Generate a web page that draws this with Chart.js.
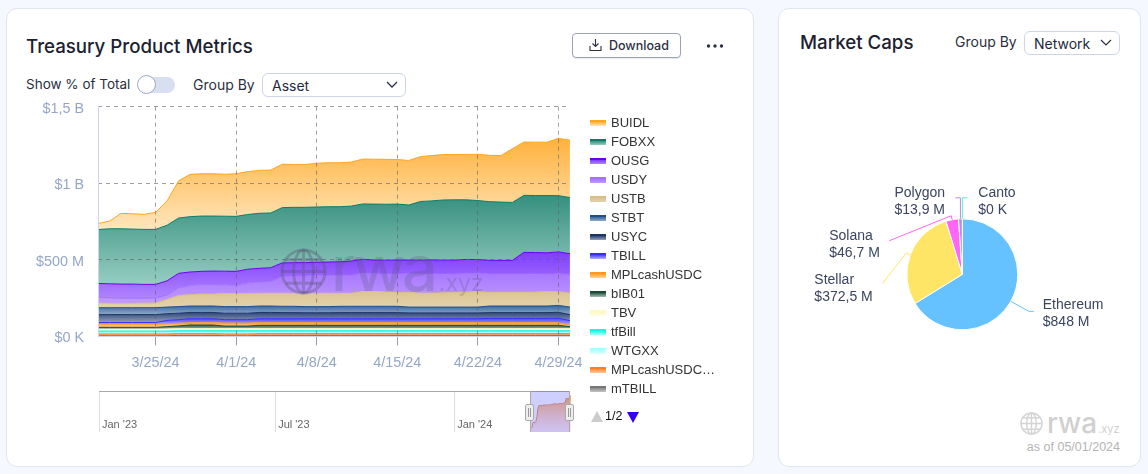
<!DOCTYPE html>
<html>
<head>
<meta charset="utf-8">
<title>Treasury Product Metrics</title>
<script src="https://cdn.jsdelivr.net/npm/chart.js@4"></script>
<style>
html, body { margin: 0; padding: 0; width: 1148px; height: 474px; overflow: hidden; background: #f5f8fe; font-family: Inter, sans-serif; color: #1b2130; }
.card { position: absolute; top: 7.5px; height: 459px; background: #fff; border: 1px solid #dfe6f3; border-radius: 11px; box-sizing: border-box; }
.abs { position: absolute; white-space: nowrap; }
.title { font-size: 18.7px; font-weight: 500; }
.label { font-size: 14px; color: #2a3040; }
.select { border: 1px solid #ccd6e8; border-radius: 6px; box-sizing: border-box; height: 24px; font-size: 14px; line-height: 23px; padding-left: 9px; color: #1f2940; }
canvas { position: absolute; }
.legend-row { position: absolute; left: 590px; height: 14px; font: 13px "Liberation Sans", sans-serif; color: #333; line-height: 14px; }
.legend-row i { position: absolute; left: 0; top: 4px; width: 16px; height: 6px; }
.legend-row span { position: absolute; left: 21px; white-space: nowrap; }
.handle { position: absolute; top: 404px; width: 9px; height: 17px; background: #eee; border: 1px solid #aaa; border-radius: 2px; box-sizing: border-box; }
.handle::after { content: ""; position: absolute; left: 2px; top: 3px; width: 1px; height: 9px; border-left: 1px solid #999; border-right: 1px solid #999; }
</style>
</head>
<body>
<svg width="0" height="0" style="position:absolute">
  <symbol id="globe" viewBox="0 0 48 48">
    <g fill="none" stroke="currentColor" stroke-width="3">
      <circle cx="24" cy="24" r="22"/>
      <ellipse cx="24" cy="24" rx="10" ry="22"/>
      <path d="M24 2V46M2 24H46M6 12H42M6 36H42"/>
    </g>
  </symbol>
</svg>

<div class="card" style="left:5.5px;width:748px"></div>
<div class="card" style="left:778px;width:363px"></div>

<div class="abs title" style="left:26px;top:35px">Treasury Product Metrics</div>
<div class="abs label" style="left:26px;top:76px;font-size:13.5px">Show % of Total</div>
<div class="abs" style="left:141px;top:77px;width:34px;height:16px;border-radius:8px;background:#d8dff1"></div>
<div class="abs" style="left:137px;top:75px;width:19px;height:19px;border-radius:50%;background:#fff;border:1px solid #9aa8c2;box-sizing:border-box"></div>
<div class="abs label" style="left:193px;top:76px">Group By</div>
<div class="abs select" style="left:262px;top:73px;width:144px">Asset</div>
<svg class="abs" style="left:386px;top:81px" width="12" height="8"><path d="M1 1L6 6L11 1" fill="none" stroke="#2a3040" stroke-width="1.3"/></svg>

<div class="abs" style="left:572px;top:33px;width:109px;height:25px;border:1px solid #9aa3b4;border-radius:4px;box-sizing:border-box;box-shadow:0 1px 1px #e4e8f0"></div>
<svg class="abs" style="left:589px;top:39px" width="13" height="13"><path d="M6.5 0V7M3.5 4.5L6.5 7.5L9.5 4.5M1 7V11.5H12V7" fill="none" stroke="#2a3040" stroke-width="1.1"/></svg>
<div class="abs" style="left:609px;top:38px;font-size:12.5px;font-weight:500;color:#2a3040">Download</div>
<svg class="abs" style="left:706px;top:43px" width="18" height="6"><circle cx="2.5" cy="3" r="1.7" fill="#2a3040"/><circle cx="9" cy="3" r="1.7" fill="#2a3040"/><circle cx="15.5" cy="3" r="1.7" fill="#2a3040"/></svg>

<div class="abs title" style="left:800px;top:31px">Market Caps</div>
<div class="abs label" style="left:955px;top:33px">Group By</div>
<div class="abs select" style="left:1024px;top:31px;width:96px">Network</div>
<svg class="abs" style="left:1100px;top:39px" width="12" height="8"><path d="M1 1L6 6L11 1" fill="none" stroke="#2a3040" stroke-width="1.2"/></svg>

<canvas id="metrics-chart" style="left:20px;top:84px" width="572" height="300"></canvas>
<div class="abs" style="left:98px;top:106px;width:1px;height:231px;background:#ccd6e8"></div>
<div class="abs" style="left:98px;top:336px;width:472px;height:1px;background:#ccd6e8"></div>

<svg class="abs" style="left:280px;top:248px;color:rgba(85,85,115,.36);z-index:3" width="47" height="47"><use href="#globe"/></svg>
<div class="abs" style="left:331px;top:233px;font-size:63px;font-weight:500;letter-spacing:-3px;line-height:70px;color:rgba(85,85,115,.24);z-index:3">rwa<span style="font-size:23px;font-weight:400;letter-spacing:0;margin-left:4px">.xyz</span></div>

<div id="metrics-legend"></div>

<canvas id="navigator-chart" style="left:98.5px;top:391px" width="472" height="41"></canvas>
<div class="abs" style="left:98.5px;top:391px;width:471.5px;height:1px;background:#aaa"></div>
<div class="abs" style="left:529.5px;top:391px;width:40.5px;height:41px;background:rgba(70,70,255,.26);border-left:1px solid #aaa;border-right:1px solid #aaa;box-sizing:border-box"></div>
<div class="handle" style="left:525px"></div>
<div class="handle" style="left:565px"></div>

<svg class="abs" style="left:590px;top:411px" width="50" height="12"><path d="M1 11L7 0L13 11Z" fill="#ccc"/><path d="M37 1H49L43 12Z" fill="#3300f5"/></svg>
<div class="abs" style="left:605px;top:409px;font:12.5px 'Liberation Sans',sans-serif;color:#111">1/2</div>

<canvas id="caps-chart" style="left:778px;top:170px" width="362" height="180"></canvas>

<svg class="abs" style="left:1020px;top:411.5px;color:#d4d4d4" width="23" height="23"><use href="#globe"/></svg>
<div class="abs" style="left:1047px;top:405px;font-size:28px;font-weight:500;line-height:36px;color:#d0d0d0">rwa<span style="font-size:11px;font-weight:400;margin-left:1px">.xyz</span></div>
<div class="abs" style="right:28px;top:440px;font:12.5px 'Liberation Sans',sans-serif;color:#b4b4b4">as of 05/01/2024</div>

<script>
const dates = [
    "3/20/24", "3/21/24", "3/22/24", "3/23/24", "3/24/24", "3/25/24", "3/26/24", "3/27/24", "3/28/24", "3/29/24", "3/30/24", "3/31/24",
    "4/1/24", "4/2/24", "4/3/24", "4/4/24", "4/5/24", "4/6/24", "4/7/24", "4/8/24", "4/9/24", "4/10/24", "4/11/24", "4/12/24", "4/13/24",
    "4/14/24", "4/15/24", "4/16/24", "4/17/24", "4/18/24", "4/19/24", "4/20/24", "4/21/24", "4/22/24", "4/23/24", "4/24/24", "4/25/24",
    "4/26/24", "4/27/24", "4/28/24", "4/29/24", "4/30/24",
];
const xTickDates = ["3/25/24", "4/1/24", "4/8/24", "4/15/24", "4/22/24", "4/29/24"];
const yTickLabels = ["$0 K", "$500 M", "$1 B", "$1,5 B"];

// values in $M, one per day
const buidl = [39, 50, 100, 100, 98, 111, 159, 243, 276, 276, 276, 274, 278, 280, 280, 280, 283, 280, 280, 285, 287, 287, 287, 293, 293, 293, 291, 291, 293, 296, 296, 296, 296, 302, 302, 304, 350, 348, 348, 348, 374, 374];
const fobxx = [352, 359, 361, 359, 359, 359, 363, 361, 361, 361, 359, 359, 359, 357, 359, 357, 361, 361, 361, 361, 361, 359, 359, 361, 365, 365, 365, 359, 383, 385, 393, 393, 389, 385, 383, 380, 378, 372, 372, 374, 367, 367];
const ousg = [89, 91, 91, 91, 89, 89, 93, 93, 87, 85, 87, 89, 91, 89, 89, 91, 89, 87, 87, 85, 87, 89, 93, 91, 89, 91, 91, 89, 91, 93, 91, 91, 93, 93, 89, 89, 89, 141, 141, 139, 143, 135];
const usdy = [39, 37, 35, 35, 33, 33, 28, 52, 61, 63, 63, 57, 54, 70, 74, 76, 109, 113, 113, 117, 117, 117, 117, 120, 117, 117, 120, 122, 124, 124, 122, 120, 120, 117, 120, 120, 120, 120, 117, 115, 117, 122];
const ustb = [30, 28, 28, 28, 30, 30, 50, 72, 74, 78, 78, 85, 85, 85, 83, 83, 85, 85, 87, 87, 87, 85, 85, 96, 96, 93, 91, 96, 91, 91, 93, 96, 98, 100, 89, 89, 89, 89, 91, 93, 89, 91];
const stbt = [45, 45, 45, 45, 45, 45, 43, 43, 42, 42, 42, 43, 43, 43, 42, 42, 41, 41, 40, 40, 40, 41, 41, 41, 41, 41, 41, 38, 38, 38, 38, 38, 38, 38, 43, 43, 43, 43, 43, 43, 45, 49];
const usyc = [52, 52, 52, 52, 52, 52, 44, 42, 41, 41, 41, 42, 42, 42, 41, 41, 40, 40, 39, 39, 39, 40, 40, 40, 40, 40, 40, 38, 38, 38, 38, 38, 38, 38, 38, 38, 38, 38, 38, 38, 38, 39];
const tbill = [11, 11, 11, 11, 11, 11, 21, 24, 26, 26, 26, 22, 22, 22, 26, 26, 26, 26, 26, 26, 26, 26, 26, 26, 26, 26, 26, 26, 26, 26, 26, 26, 26, 26, 28, 28, 28, 28, 28, 28, 30, 30];
const mplCash = [20, 20, 20, 20, 20, 20, 20, 17, 15, 15, 15, 20, 20, 20, 17, 17, 17, 17, 17, 17, 17, 17, 17, 17, 17, 17, 17, 17, 17, 17, 17, 17, 17, 17, 17, 17, 17, 17, 17, 17, 17, 10];
const bib01 = [13, 13, 13, 13, 13, 13, 15, 18, 24, 24, 24, 17, 17, 17, 22, 22, 22, 22, 22, 22, 22, 22, 22, 22, 22, 22, 22, 22, 22, 22, 22, 22, 22, 22, 22, 22, 22, 22, 22, 22, 22, 13];
const tbv = [11, 11, 11, 11, 11, 11, 13, 13, 13, 13, 13, 13, 13, 13, 13, 13, 13, 13, 13, 13, 13, 13, 13, 13, 13, 13, 13, 13, 13, 13, 13, 13, 13, 13, 13, 13, 13, 13, 13, 13, 13, 13];
const tfBill = [13, 13, 13, 13, 13, 13, 13, 13, 13, 13, 13, 15, 15, 15, 13, 13, 13, 13, 13, 13, 13, 13, 13, 13, 13, 13, 13, 13, 13, 13, 13, 13, 13, 13, 13, 13, 13, 13, 13, 13, 13, 13];
const wtgxx = [6, 6, 6, 6, 6, 6, 6, 6, 6, 6, 6, 6, 6, 6, 6, 6, 6, 6, 6, 6, 6, 6, 6, 6, 6, 6, 6, 6, 6, 6, 6, 6, 6, 6, 6, 6, 6, 6, 6, 6, 6, 6];
const mplCash2 = [12, 12, 12, 12, 12, 12, 12, 12, 12, 12, 12, 12, 12, 12, 12, 12, 12, 12, 12, 12, 12, 12, 12, 12, 12, 12, 12, 12, 12, 12, 12, 12, 12, 12, 12, 12, 12, 12, 12, 12, 12, 12];
const mtbill = [5, 5, 5, 5, 5, 5, 5, 7, 7, 7, 7, 5, 5, 5, 7, 7, 7, 7, 7, 7, 7, 7, 7, 7, 7, 7, 7, 7, 7, 7, 7, 7, 7, 7, 7, 7, 7, 7, 7, 7, 7, 7];

const assetNames = ["BUIDL", "FOBXX", "OUSG", "USDY", "USTB", "STBT", "USYC", "TBILL", "MPLcashUSDC", "bIB01", "TBV", "tfBill", "WTGXX", "MPLcashUSDC…", "mTBILL"];
const assetValues = [buidl, fobxx, ousg, usdy, ustb, stbt, usyc, tbill, mplCash, bib01, tbv, tfBill, wtgxx, mplCash2, mtbill];

const navigatorTickDays = [0, 181, 365];
const navigatorTickLabels = ["Jan '23", "Jul '23", "Jan '24"];

const capNames = ["Ethereum", "Stellar", "Solana", "Polygon", "Canto"];
const capValues = [848, 372.5, 46.7, 13.9, 0];
const capLabels = ["$848 M", "$372,5 M", "$46,7 M", "$13,9 M", "$0 K"];

// line, band top and band bottom colour per asset
const assetLine = ["#ffa61f", "#0b7d69", "#6a00f5", "#a470ff", "#d9bd85", "#1f4f8f", "#1d3468", "#3a2cff", "#ff9a1c", "#1c4a38", "#fff9c4", "#19f5e2", "#a8ffff", "#ff7f27", "#777777"];
const assetTop = ["#ffb13c", "#36907f", "#7f3dfb", "#a878ff", "#dcc595", "#35679f", "#2d4678", "#4a40ff", "#ff9f2a", "#2a5a48", "#fff8c0", "#20f5e5", "#b0ffff", "#ff8a3a", "#888888"];
const assetBottom = ["#ffe6bd", "#96cdc2", "#b084ff", "#c09aff", "#e3d2aa", "#8fabc8", "#94a2b8", "#b0b0ff", "#ffd49a", "#a9bcb2", "#fffde6", "#b0fff6", "#e0ffff", "#ffc8a0", "#c5c5c5"];

// leader line bend, leader line end and text position, relative to the slice edge
const capLeaders = [
    { bend: [18, 10], end: [23, 10], text: [32, 4] },
    { bend: [-4, -2], end: [-28, 29], text: [-96, 25] },
    { bend: [-1, -4], end: [-63, 21], text: [-123, 16] },
    { bend: [0, -21], end: [-5, -21], text: [-66, -26] },
    { bend: [0, -21], end: [5, -21], text: [16, -26] },
];
const capColors = ["#66c2ff", "#ffe566", "#ff66f5", "#b98af0", "#55f0b0"];

const chartFont = "'Liberation Sans', sans-serif";

const bandGradient = (context, index) => {
    const { chart } = context;
    if (!chart.chartArea) {
        return assetTop[index];
    }
    // fill runs from the highest point of the band top to the lowest point of its base
    const y = chart.scales.y;
    let highest = 0;
    let lowest = Infinity;
    dates.forEach((_, day) => {
        let base = 0;
        for (let i = assetValues.length - 1; i > index; i--) {
            base += assetValues[i][day];
        }
        highest = Math.max(highest, base + assetValues[index][day]);
        lowest = Math.min(lowest, base);
    });
    const gradient = chart.ctx.createLinearGradient(0, y.getPixelForValue(highest), 0, y.getPixelForValue(lowest));
    gradient.addColorStop(0, assetTop[index]);
    gradient.addColorStop(1, assetBottom[index]);
    return gradient;
};

const loadMetricsChart = () => {
    const datasets = assetNames.map((name, index) => ({
        label: name,
        data: assetValues[index],
        borderColor: assetLine[index],
        backgroundColor: (context) => bandGradient(context, index),
        borderWidth: 1,
        pointRadius: 0,
        tension: 0,
        fill: index === assetNames.length - 1 ? "origin" : "-1",
    })).reverse();

    new Chart(document.getElementById("metrics-chart"), {
        type: "line",
        data: { labels: dates, datasets: datasets },
        options: {
            responsive: false,
            animation: false,
            events: [],
            layout: { padding: { top: 20.5, right: 22, left: 0, bottom: 0 } },
            plugins: { legend: { display: false }, tooltip: { enabled: false } },
            scales: {
                x: {
                    offset: false,
                    afterBuildTicks: (axis) => {
                        axis.ticks = axis.ticks.filter((tick) => xTickDates.includes(dates[tick.value]));
                    },
                    afterFit: (axis) => {
                        axis.height = 47.5;
                    },
                    grid: { color: "rgba(95,95,95,.6)", z: 1, tickLength: 9 },
                    border: { display: false, dash: [4, 4] },
                    ticks: { autoSkip: false, maxRotation: 0, color: "#95a7c6", padding: 9, font: { family: chartFont, size: 14.4 } },
                },
                y: {
                    stacked: true,
                    min: 0,
                    max: 1500,
                    afterBuildTicks: (axis) => {
                        axis.ticks = yTickLabels.map((_, i) => ({ value: i * 500 }));
                    },
                    afterFit: (axis) => {
                        axis.width = 78;
                    },
                    grid: { color: "rgba(95,95,95,.6)", z: 1, drawTicks: false },
                    border: { display: false, dash: [4, 4] },
                    ticks: {
                        color: "#95a7c6",
                        padding: 14,
                        labelOffset: 2,
                        font: { family: chartFont, size: 14.4 },
                        callback: (value) => yTickLabels[value / 500],
                    },
                },
            },
        },
    });
};

const loadLegend = () => {
    const legend = document.getElementById("metrics-legend");
    assetNames.forEach((name, index) => {
        const row = document.createElement("div");
        row.className = "legend-row";
        row.style.top = 115.5 + index * 19.07 + "px";
        row.innerHTML = `<i style="background:linear-gradient(${assetLine[index]} 0 2px, ${assetTop[index]} 2px, ${assetBottom[index]})"></i><span>${name}</span>`;
        legend.appendChild(row);
    });
};

const navigatorTickPlugin = {
    id: "navigatorTicks",
    afterDraw: (chart) => {
        const { ctx, scales } = chart;
        ctx.save();
        ctx.fillStyle = "#666";
        ctx.font = "11px " + chartFont;
        ctx.textBaseline = "middle";
        navigatorTickDays.forEach((day, i) => {
            ctx.fillText(navigatorTickLabels[i], scales.x.getPixelForValue(day) + 3, 33.5);
        });
        ctx.restore();
    },
};

const loadNavigatorChart = () => {
    const firstDay = new Date("1/1/23").getTime();
    const points = buidl.map((value, i) => ({
        x: Math.round((new Date(dates[i]).getTime() - firstDay) / 86400000),
        y: value,
    }));

    new Chart(document.getElementById("navigator-chart"), {
        type: "line",
        data: {
            datasets: [{
                data: points,
                borderColor: "#e09a60",
                borderWidth: 1,
                pointRadius: 0,
                fill: "origin",
                backgroundColor: (context) => {
                    const { ctx, chartArea } = context.chart;
                    if (!chartArea) {
                        return "#ffb13c";
                    }
                    const gradient = ctx.createLinearGradient(0, chartArea.top, 0, chartArea.bottom);
                    gradient.addColorStop(0, "rgba(255,160,40,.95)");
                    gradient.addColorStop(1, "rgba(255,190,180,.25)");
                    return gradient;
                },
            }],
        },
        options: {
            responsive: false,
            animation: false,
            events: [],
            layout: { padding: 0 },
            plugins: { legend: { display: false }, tooltip: { enabled: false } },
            scales: {
                x: {
                    type: "linear",
                    min: 0,
                    max: points[points.length - 1].x,
                    afterBuildTicks: (axis) => {
                        axis.ticks = navigatorTickDays.map((day) => ({ value: day }));
                    },
                    afterFit: (axis) => {
                        axis.height = 0;
                    },
                    grid: { color: "#dddddd", drawTicks: false },
                    border: { display: false },
                    ticks: { display: false },
                },
                y: { display: false, min: 0, max: 426 },
            },
        },
        plugins: [navigatorTickPlugin],
    });
};

const capLabelPlugin = {
    id: "capLabels",
    afterDraw: (chart) => {
        const { ctx } = chart;
        chart.getDatasetMeta(0).data.forEach((arc, index) => {
            const angle = (arc.startAngle + arc.endAngle) / 2;
            const edgeX = arc.x + arc.outerRadius * Math.cos(angle);
            const edgeY = arc.y + arc.outerRadius * Math.sin(angle);
            const leader = capLeaders[index];
            ctx.save();
            ctx.strokeStyle = capColors[index];
            ctx.lineWidth = 1;
            ctx.beginPath();
            ctx.moveTo(edgeX, edgeY);
            ctx.lineTo(edgeX + leader.bend[0], edgeY + leader.bend[1]);
            ctx.lineTo(edgeX + leader.end[0], edgeY + leader.end[1]);
            ctx.stroke();
            ctx.fillStyle = "#3a4560";
            ctx.font = "14px " + chartFont;
            ctx.textBaseline = "middle";
            ctx.fillText(capNames[index], edgeX + leader.text[0], edgeY + leader.text[1]);
            ctx.fillText(capLabels[index], edgeX + leader.text[0], edgeY + leader.text[1] + 17);
            ctx.restore();
        });
    },
};

const loadCapsChart = () => {
    new Chart(document.getElementById("caps-chart"), {
        type: "pie",
        data: {
            labels: capNames,
            datasets: [{
                data: capValues,
                backgroundColor: capColors,
                borderColor: "#ffffff",
                borderWidth: 1,
                hoverOffset: 0,
            }],
        },
        options: {
            responsive: false,
            animation: false,
            events: [],
            layout: { padding: { left: 128.3, right: 121.7, top: 48.3, bottom: 19.7 } },
            plugins: { legend: { display: false }, tooltip: { enabled: false } },
        },
        plugins: [capLabelPlugin],
    });
};

window.addEventListener("load", () => {
    loadMetricsChart();
    loadLegend();
    loadNavigatorChart();
    loadCapsChart();
});
</script>
</body>
</html>
